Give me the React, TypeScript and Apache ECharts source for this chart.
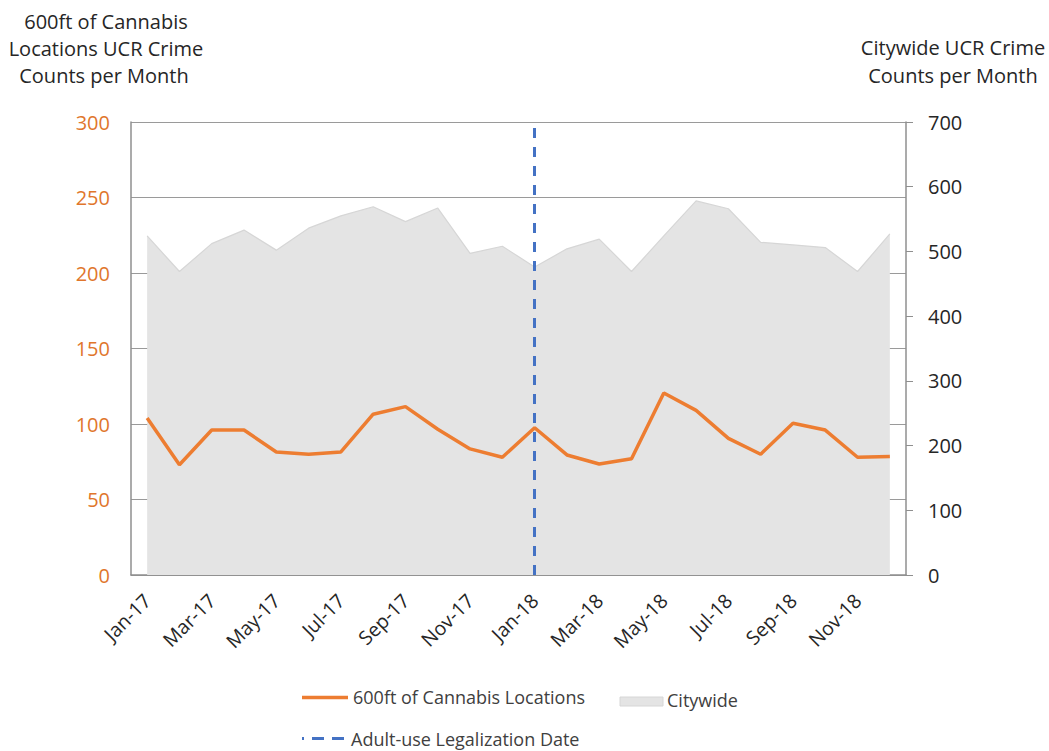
import React, { useEffect, useRef } from "react";
import * as echarts from "echarts";

// Monthly UCR crime counts, Jan 2017 – Dec 2018
const months = [
  "Jan-17", "Feb-17", "Mar-17", "Apr-17", "May-17", "Jun-17",
  "Jul-17", "Aug-17", "Sep-17", "Oct-17", "Nov-17", "Dec-17",
  "Jan-18", "Feb-18", "Mar-18", "Apr-18", "May-18", "Jun-18",
  "Jul-18", "Aug-18", "Sep-18", "Oct-18", "Nov-18", "Dec-18",
];

// Crimes within 600ft of cannabis locations (left axis)
const nearCannabis = [
  104, 73, 96, 96, 81.5, 80, 81.5, 106.5, 111.5, 96.5, 83.5, 78,
  97.5, 79.5, 73.5, 77, 120.5, 109, 90.5, 80, 100.5, 96, 78, 78.5,
];

// Citywide crimes (right axis)
const citywide = [
  524, 469, 512, 533, 502, 536, 555, 569, 546, 567, 497, 508,
  476, 504, 519, 469, 524, 578, 566, 514, 510, 506, 469, 527,
];

const legalizationMonth = "Jan-18";

const leftTicks = { min: 0, max: 300, interval: 50 };
const rightTicks = { min: 0, max: 700, interval: 100 };

const FONT = "'Open Sans', Lato, sans-serif";
const ORANGE = "#ED7D31";
const ORANGE_TEXT = "#E0762C";
const BLUE = "#4472C4";
const AXIS_GRAY = "#8f8f8f";
const TEXT = "#262626";
const LEGEND_TEXT = "#404040";

export default function App() {
  const ref = useRef<HTMLDivElement>(null);

  useEffect(() => {
    if (!ref.current) return;
    const chart = echarts.init(ref.current, null, { renderer: "svg" });

    const titleText = (text: string, x: number, y: number) => ({
      type: "text",
      x,
      y,
      style: {
        text,
        fontSize: 20,
        fontFamily: FONT,
        fill: TEXT,
        align: "center",
        verticalAlign: "middle",
      },
    });

    const legendText = (text: string, x: number, y: number) => ({
      type: "text",
      x,
      y,
      style: {
        text,
        fontSize: 18,
        fontFamily: FONT,
        fill: LEGEND_TEXT,
        align: "left",
        verticalAlign: "middle",
      },
    });

    chart.setOption({
      animation: false,
      backgroundColor: "#ffffff",
      textStyle: { fontFamily: FONT },
      grid: { left: 131, right: 143, top: 122, bottom: 176 },
      xAxis: {
        type: "category",
        data: months,
        boundaryGap: true,
        axisLine: { show: true, lineStyle: { color: AXIS_GRAY, width: 1.5 } },
        axisTick: { show: false },
        axisLabel: {
          interval: 1,
          rotate: 45,
          fontSize: 19.5,
          color: TEXT,
          margin: 22,
          fontFamily: FONT,
        },
        splitLine: { show: false },
      },
      yAxis: [
        {
          type: "value",
          position: "left",
          ...leftTicks,
          axisLine: { show: true, lineStyle: { color: AXIS_GRAY, width: 1.5 } },
          axisTick: { show: false },
          axisLabel: { fontSize: 20, color: ORANGE_TEXT, margin: 21, fontFamily: FONT },
          splitLine: { show: true, lineStyle: { color: "#9a9a9a", width: 1.2 } },
        },
        {
          type: "value",
          position: "right",
          ...rightTicks,
          axisLine: { show: true, lineStyle: { color: AXIS_GRAY, width: 1.5 } },
          axisTick: { show: true, inside: false, length: 7, lineStyle: { color: AXIS_GRAY } },
          axisLabel: { fontSize: 20, color: TEXT, margin: 22, fontFamily: FONT },
          splitLine: { show: false },
        },
      ],
      series: [
        {
          name: "Citywide",
          type: "line",
          yAxisIndex: 1,
          data: citywide,
          symbol: "none",
          lineStyle: { color: "#d6d6d6", width: 1.2 },
          areaStyle: { color: "#e4e4e4", opacity: 1 },
          z: 1,
        },
        {
          name: "600ft of Cannabis Locations",
          type: "line",
          yAxisIndex: 0,
          data: nearCannabis,
          symbol: "none",
          lineStyle: { color: ORANGE, width: 3.5 },
          z: 3,
          markLine: {
            silent: true,
            symbol: ["none", "none"],
            label: { show: false },
            lineStyle: { color: BLUE, width: 3, type: [10, 9] },
            data: [{ xAxis: legalizationMonth }],
          },
        },
      ],
      graphic: [
        titleText("600ft of Cannabis", 106, 21),
        titleText("Locations UCR Crime", 106, 48),
        titleText("Counts per Month", 104, 75),
        titleText("Citywide UCR Crime", 953, 47),
        titleText("Counts per Month", 953, 75),
        {
          type: "line",
          shape: { x1: 302, y1: 697.5, x2: 348, y2: 697.5 },
          style: { stroke: ORANGE, lineWidth: 3.5 },
        },
        legendText("600ft of Cannabis Locations", 353, 696.5),
        {
          type: "rect",
          shape: { x: 620, y: 697, width: 43, height: 9 },
          style: { fill: "#e4e4e4", stroke: "#d6d6d6", lineWidth: 1 },
        },
        legendText("Citywide", 667, 700),
        {
          type: "line",
          shape: { x1: 302, y1: 738.5, x2: 346, y2: 738.5 },
          style: { stroke: BLUE, lineWidth: 3, lineDash: [12, 8], lineDashOffset: 10 },
        },
        legendText("Adult-use Legalization Date", 351, 739),
      ],
    });

    return () => chart.dispose();
  }, []);

  return (
    <div
      ref={ref}
      style={{ position: "fixed", left: 0, top: 0, width: 1049, height: 751 }}
    />
  );
}
